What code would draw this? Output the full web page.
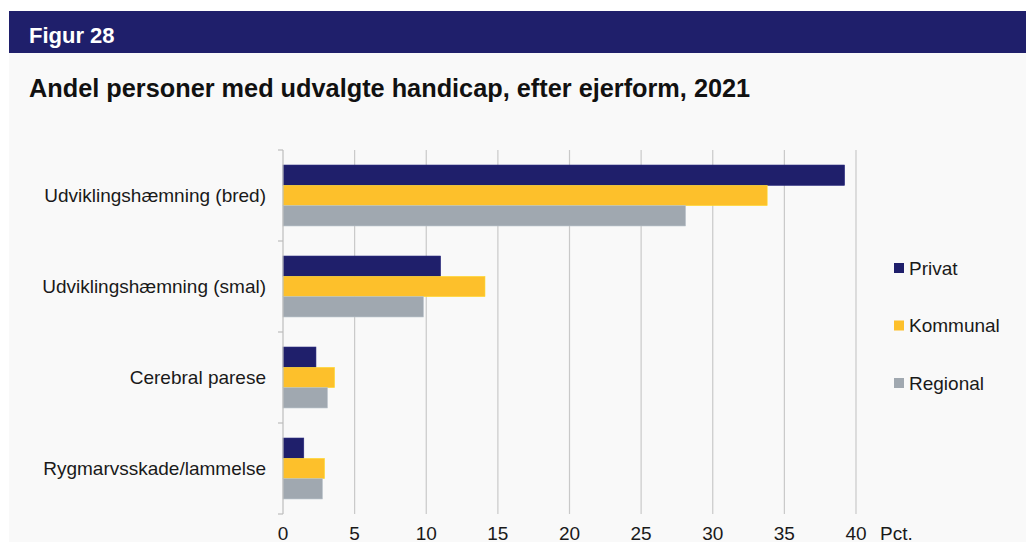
<!DOCTYPE html>
<html>
<head>
<meta charset="utf-8">
<script src="https://cdn.jsdelivr.net/npm/d3@7"></script>
<style>
  body { margin: 0; background: #fff; }
  svg { display: block; font-family: 'Liberation Sans', Arial, sans-serif; }
</style>
</head>
<body>
<div id="chart"></div>
<script>
// data
const categories = [
  'Udviklingshæmning (bred)',
  'Udviklingshæmning (smal)',
  'Cerebral parese',
  'Rygmarvsskade/lammelse'
]
const seriesNames = ['Privat', 'Kommunal', 'Regional']
const privat = [39.2, 11.0, 2.3, 1.45]
const kommunal = [33.8, 14.1, 3.6, 2.9]
const regional = [28.1, 9.8, 3.1, 2.75]
const xTicks = [0, 5, 10, 15, 20, 25, 30, 35, 40]

const colors = ['#1f1f6b', '#fdc02b', '#a0a8b0']
const series = [privat, kommunal, regional]

const width = 1026
const height = 542
const margin = { top: 150, left: 283, right: 170, bottom: 28 }

const svg = d3
  .select('#chart')
  .append('svg')
  .attr('width', width)
  .attr('height', height)

// panel + header
svg
  .append('rect')
  .attr('x', 9)
  .attr('y', 53)
  .attr('width', width - 9)
  .attr('height', height - 53)
  .attr('fill', '#f9f9f9')

svg
  .append('rect')
  .attr('x', 9)
  .attr('y', 11)
  .attr('width', width - 9)
  .attr('height', 42)
  .attr('fill', '#1f1f6b')

svg
  .append('text')
  .text('Figur 28')
  .attr('x', 29)
  .attr('y', 43)
  .attr('fill', '#fff')
  .attr('font-weight', 'bold')
  .style('font-size', '22px')

svg
  .append('text')
  .text('Andel personer med udvalgte handicap, efter ejerform, 2021')
  .attr('x', 29)
  .attr('y', 97)
  .attr('fill', '#111')
  .attr('font-weight', 'bold')
  .style('font-size', '25.3px')

// scales
const xScale = d3
  .scaleLinear()
  .domain([0, 40])
  .range([margin.left, 856])

const yScale = d3
  .scaleBand()
  .domain(categories)
  .range([margin.top, 514])

const inner = d3
  .scaleBand()
  .domain(seriesNames)
  .range([0, yScale.bandwidth()])
  .paddingOuter(0.74)

// gridlines
svg
  .selectAll('.grid')
  .data(xTicks.slice(1))
  .enter()
  .append('line')
  .attr('x1', d => xScale(d))
  .attr('x2', d => xScale(d))
  .attr('y1', margin.top)
  .attr('y2', 514)
  .attr('stroke', '#c9c9c9')
  .attr('stroke-width', 1.2)

// bars
seriesNames.forEach((name, i) => {
  svg
    .selectAll('.bar-' + i)
    .data(series[i])
    .enter()
    .append('rect')
    .attr('x', xScale(0))
    .attr('y', (d, j) => yScale(categories[j]) + inner(name))
    .attr('width', d => xScale(d) - xScale(0))
    .attr('height', inner.bandwidth())
    .attr('fill', colors[i])
    .attr('stroke', d3.color(colors[i]).brighter(0.4))
    .attr('stroke-width', 0.6)
})

// y axis
const yAxis = svg
  .append('g')
  .attr('transform', `translate(${margin.left},0)`)

yAxis
  .append('line')
  .attr('x1', 0)
  .attr('x2', 0)
  .attr('y1', margin.top)
  .attr('y2', 514)
  .attr('stroke', '#bdbdbd')
  .attr('stroke-width', 1.2)

const boundaries = categories.map(d => yScale(d)).concat([514])
yAxis
  .selectAll('.tick')
  .data(boundaries)
  .enter()
  .append('line')
  .attr('x1', -5)
  .attr('x2', 0)
  .attr('y1', d => d)
  .attr('y2', d => d)
  .attr('stroke', '#bdbdbd')
  .attr('stroke-width', 1.2)

svg
  .selectAll('.cat-label')
  .data(categories)
  .enter()
  .append('text')
  .text(d => d)
  .attr('x', 266)
  .attr('y', d => yScale(d) + yScale.bandwidth() / 2)
  .attr('dy', '0.35em')
  .attr('text-anchor', 'end')
  .attr('fill', '#1a1a1a')
  .style('font-size', '19px')

// x tick labels
svg
  .selectAll('.x-label')
  .data(xTicks)
  .enter()
  .append('text')
  .text(d => d)
  .attr('x', d => xScale(d))
  .attr('y', 540)
  .attr('text-anchor', 'middle')
  .attr('fill', '#1a1a1a')
  .style('font-size', '19px')

svg
  .append('text')
  .text('Pct.')
  .attr('x', 880)
  .attr('y', 540)
  .attr('fill', '#1a1a1a')
  .style('font-size', '19px')

// legend
const legend = svg
  .selectAll('.legend')
  .data(seriesNames)
  .enter()
  .append('g')
  .attr('transform', (d, i) => `translate(894, ${268 + i * 57.5})`)

legend
  .append('rect')
  .attr('x', 0)
  .attr('y', -5)
  .attr('width', 10)
  .attr('height', 10)
  .attr('fill', (d, i) => colors[i])

legend
  .append('text')
  .text(d => d)
  .attr('x', 15)
  .attr('y', 0)
  .attr('dy', '0.35em')
  .attr('fill', '#1a1a1a')
  .style('font-size', '19px')
</script>
</body>
</html>
